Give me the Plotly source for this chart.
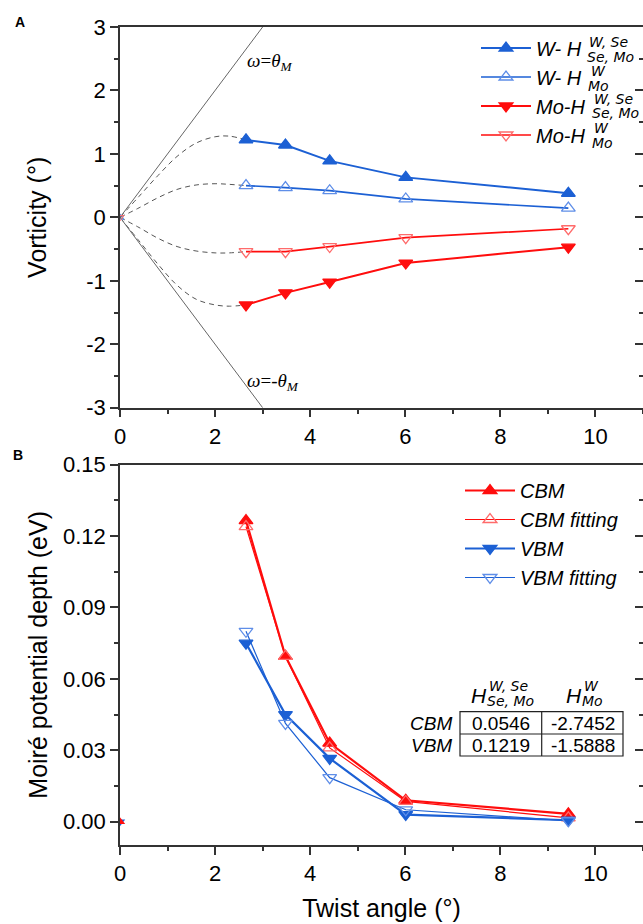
import plotly.graph_objects as go

# ---------------- data ----------------
twist = [2.65, 3.48, 4.41, 6.01, 9.43]

# Panel A: vorticity (deg)
w_hsemo = [1.22, 1.14, 0.89, 0.63, 0.38]
w_hmo = [0.50, 0.47, 0.42, 0.29, 0.145]
mo_hsemo = [-1.38, -1.19, -1.02, -0.72, -0.47]
mo_hmo = [-0.54, -0.54, -0.46, -0.32, -0.18]

# dashed guide curves from origin
guide_x = [0, 0.4, 0.8, 1.2, 1.6, 2.0, 2.3, 2.65]
guide_w_hsemo = [0, 0.33, 0.66, 0.96, 1.17, 1.27, 1.28, 1.22]
guide_w_hmo = [0, 0.15, 0.31, 0.44, 0.51, 0.53, 0.52, 0.50]
guide_mo_hmo = [0, -0.16, -0.33, -0.46, -0.53, -0.56, -0.56, -0.54]
guide_mo_hsemo = [0, -0.37, -0.74, -1.07, -1.29, -1.38, -1.40, -1.38]

# omega = +/- theta_M bounds
bound_x = [0, 3]
bound_pos = [0, 3]
bound_neg = [0, -3]

# Panel B: moire potential depth (eV)
cbm = [0.1265, 0.0695, 0.0330, 0.0090, 0.0033]
cbm_fit = [0.1240, 0.0695, 0.0310, 0.0085, 0.0016]
vbm = [0.0750, 0.0450, 0.0266, 0.0030, 0.0006]
vbm_fit = [0.0800, 0.0413, 0.0185, 0.0050, 0.0004]
origin_x = [0]
origin_y = [0]

table_rows = ["CBM", "VBM"]
table_col1 = ["0.0546", "0.1219"]
table_col2 = ["-2.7452", "-1.5888"]

xticks = [0, 2, 4, 6, 8, 10]
yticksA = [3, 2, 1, 0, -1, -2, -3]
yticksB = [0.00, 0.03, 0.06, 0.09, 0.12, 0.15]

# ---------------- style ----------------
BLUE = "#1c60d4"
BLUE_L = "#5f8ee8"
RED = "#ff0d0d"
RED_L = "#ff6b6b"
GUIDE = "#555555"
AX = "#333333"
SANS = "Liberation Sans, Arial, sans-serif"
DJV = "DejaVu Sans, sans-serif"
SERIF = "Liberation Serif, Times New Roman, serif"

L, R_, T, B = 120, 643, 27, 845
W, H = R_ - L, B - T


def px2x(px):
    return (px - L) / W


def py2y(py):
    return (B - py) / H


fig = go.Figure()

# Panel A guides
for gy in [guide_w_hsemo, guide_w_hmo, guide_mo_hmo, guide_mo_hsemo]:
    fig.add_trace(go.Scatter(x=guide_x, y=gy, mode="lines", line=dict(color=GUIDE, width=1, dash="5px,4px", shape="spline"),
                             showlegend=False, hoverinfo="skip", xaxis="x", yaxis="y"))
for by in [bound_pos, bound_neg]:
    fig.add_trace(go.Scatter(x=bound_x, y=by, mode="lines", line=dict(color="#666666", width=1),
                             showlegend=False, hoverinfo="skip", xaxis="x", yaxis="y"))

# Panel A series
specA = [
    (w_hsemo, "<i>W- H</i>", BLUE, BLUE, "triangle-up", 2),
    (w_hmo, "<i>W- H</i>", BLUE, BLUE_L, "triangle-up-open", 1.7),
    (mo_hsemo, "<i>Mo-H</i>", RED, RED, "triangle-down", 2),
    (mo_hmo, "<i>Mo-H</i>", RED, RED_L, "triangle-down-open", 1.7),
]
for ys, name, lc, mc, sym, lw in specA:
    fig.add_trace(go.Scatter(x=twist, y=ys, name=name, mode="lines+markers",
                             line=dict(color=lc, width=lw),
                             marker=dict(symbol=sym, size=12, color=mc, line=dict(color=mc, width=1.3)),
                             legend="legend", xaxis="x", yaxis="y"))
# origin markers panel A
fig.add_trace(go.Scatter(x=origin_x, y=origin_y, mode="markers", marker=dict(symbol="triangle-up-open", size=7, color=BLUE_L),
                         showlegend=False, hoverinfo="skip", xaxis="x", yaxis="y"))
fig.add_trace(go.Scatter(x=origin_x, y=origin_y, mode="markers", marker=dict(symbol="triangle-down-open", size=7, color=RED_L),
                         showlegend=False, hoverinfo="skip", xaxis="x", yaxis="y"))

# Panel B series
specB = [
    (cbm, "<i>CBM</i>", RED, RED, "triangle-up", 2.2),
    (cbm_fit, "<i>CBM fitting</i>", RED, RED_L, "triangle-up-open", 1.2),
    (vbm, "<i>VBM</i>", BLUE, BLUE, "triangle-down", 2.2),
    (vbm_fit, "<i>VBM fitting</i>", BLUE, BLUE_L, "triangle-down-open", 1.2),
]
for ys, name, lc, mc, sym, lw in specB:
    fig.add_trace(go.Scatter(x=twist, y=ys, name=name, mode="lines+markers",
                             line=dict(color=lc, width=lw),
                             marker=dict(symbol=sym, size=12, color=mc, line=dict(color=mc, width=1.3)),
                             legend="legend2", xaxis="x2", yaxis="y2"))
fig.add_trace(go.Scatter(x=origin_x, y=origin_y, mode="markers", marker=dict(symbol="triangle-down", size=9, color=BLUE),
                         showlegend=False, hoverinfo="skip", xaxis="x2", yaxis="y2"))
fig.add_trace(go.Scatter(x=origin_x, y=origin_y, mode="markers", marker=dict(symbol="triangle-up", size=9, color=RED),
                         showlegend=False, hoverinfo="skip", xaxis="x2", yaxis="y2"))

# invisible helpers for the right-side inner tick axes
fig.add_trace(go.Scatter(x=origin_x, y=origin_y, mode="markers", marker=dict(opacity=0), showlegend=False,
                         hoverinfo="skip", xaxis="x", yaxis="y3"))
fig.add_trace(go.Scatter(x=origin_x, y=origin_y, mode="markers", marker=dict(opacity=0), showlegend=False,
                         hoverinfo="skip", xaxis="x2", yaxis="y4"))

domA = [py2y(407.7), 1]
domB = [0, py2y(464.7)]
rangeB = [-0.0098, 0.15]

common_x = dict(range=[0, 11], tickvals=xticks, ticktext=[str(v) for v in xticks],
                ticks="outside", ticklen=8, tickwidth=1.5, tickcolor=AX, automargin=False,
                minor=dict(dtick=1, tick0=0, ticks="outside", ticklen=4.5, tickwidth=1.5, tickcolor=AX),
                showline=True, linecolor=AX, linewidth=1.5, mirror=True, showgrid=False, zeroline=False,
                tickfont=dict(family=SANS, size=22, color="black"))
common_y = dict(ticks="outside", ticklen=8, tickwidth=1.5, tickcolor=AX, automargin=False,
                showline=True, linecolor=AX, linewidth=1.5, mirror=True, showgrid=False, zeroline=False,
                tickfont=dict(family=SANS, size=22, color="black"))
overlay_y = dict(side="right", ticks="inside", ticklen=8, tickwidth=1.5, tickcolor=AX, showticklabels=False,
                 showline=False, showgrid=False, zeroline=False, automargin=False)

fig.update_layout(
    width=643, height=924, margin=dict(l=L, r=0, t=T, b=924 - B, autoexpand=False),
    paper_bgcolor="white", plot_bgcolor="white", showlegend=True,
    xaxis=dict(domain=[0, 1], anchor="y", **common_x),
    yaxis=dict(domain=domA, anchor="x", range=[-3, 3], tickvals=yticksA, ticktext=[str(v) for v in yticksA],
               minor=dict(dtick=0.5, tick0=0, ticks="outside", ticklen=4.5, tickwidth=1.5, tickcolor=AX),
               title=dict(text="Vorticity (°)", font=dict(family=SANS, size=25, color="black"), standoff=33),
               **common_y),
    yaxis3=dict(overlaying="y", anchor="x", range=[-3, 3], tickvals=yticksA,
                minor=dict(dtick=0.5, tick0=0, ticks="inside", ticklen=4.5, tickwidth=1.5, tickcolor=AX), **overlay_y),
    xaxis2=dict(domain=[0, 1], anchor="y2",
                title=dict(text="Twist angle (°)", font=dict(family=SANS, size=25, color="black"), standoff=14),
                **common_x),
    yaxis2=dict(domain=domB, anchor="x2", range=rangeB, tickvals=yticksB, ticktext=["%.2f" % v for v in yticksB],
                minor=dict(dtick=0.015, tick0=0, ticks="outside", ticklen=4.5, tickwidth=1.5, tickcolor=AX),
                title=dict(text="Moiré potential depth (eV)", font=dict(family=SANS, size=25, color="black"), standoff=8),
                **common_y),
    yaxis4=dict(overlaying="y2", anchor="x2", range=rangeB, tickvals=yticksB,
                minor=dict(dtick=0.015, tick0=0, ticks="inside", ticklen=4.5, tickwidth=1.5, tickcolor=AX), **overlay_y),
    legend=dict(x=px2x(476), y=py2y(28.5), xanchor="left", yanchor="top", bgcolor="rgba(0,0,0,0)",
                font=dict(family=SANS, size=20, color="black"), itemwidth=50, tracegroupgap=0),
    legend2=dict(x=px2x(460), y=py2y(471), xanchor="left", yanchor="top", bgcolor="rgba(0,0,0,0)",
                 font=dict(family=SANS, size=20, color="black"), itemwidth=50, tracegroupgap=0),
)

ann = []
# panel labels
ann.append(dict(text="<b>A</b>", x=px2x(20), y=py2y(22), font=dict(family=SANS, size=14, color="black")))
ann.append(dict(text="<b>B</b>", x=px2x(18), y=py2y(455), font=dict(family=SANS, size=14, color="black")))
# omega = theta labels
ann.append(dict(text="<i>ω</i>=<i>θ<sub>M</sub></i>", x=px2x(245), y=py2y(62), xanchor="left",
                font=dict(family=SERIF, size=19, color="black")))
ann.append(dict(text="<i>ω</i>=-<i>θ<sub>M</sub></i>", x=px2x(245), y=py2y(382), xanchor="left",
                font=dict(family=SERIF, size=19, color="black")))

# legend A super/subscripts (stacked)
legsup = [("W, Se", 587, 42.3), ("W", 589, 71), ("W, Se", 592, 99), ("W", 592, 127.7)]
legsub = [("Se, Mo", 585, 56.7), ("Mo", 586, 86), ("Se, Mo", 590, 113.3), ("Mo", 590, 142.7)]
for t, x, y in legsup + legsub:
    ann.append(dict(text="<i>%s</i>" % t, x=px2x(x), y=py2y(y), xanchor="left",
                    font=dict(family=DJV, size=14, color="black")))

# table headers
for hx, sup, sub in [(469, "W, Se", "Se, Mo"), (564, "W", "Mo")]:
    ann.append(dict(text="<i>H</i>", x=px2x(hx), y=py2y(695), xanchor="left", font=dict(family=SANS, size=21, color="black")))
    ann.append(dict(text="<i>%s</i>" % sup, x=px2x(hx + 18), y=py2y(686), xanchor="left", font=dict(family=DJV, size=14, color="black")))
    ann.append(dict(text="<i>%s</i>" % sub, x=px2x(hx + 16), y=py2y(701), xanchor="left", font=dict(family=DJV, size=14, color="black")))
rowy = [723, 745]
for i, r in enumerate(table_rows):
    ann.append(dict(text="<i>%s</i>" % r, x=px2x(454), y=py2y(rowy[i]), xanchor="right", font=dict(family=SANS, size=19, color="black")))
    ann.append(dict(text=table_col1[i], x=px2x(501), y=py2y(rowy[i]), font=dict(family=SANS, size=19, color="black")))
    ann.append(dict(text=table_col2[i], x=px2x(583), y=py2y(rowy[i]), font=dict(family=SANS, size=19, color="black")))

for a in ann:
    a.update(xref="paper", yref="paper", showarrow=False)
    a.setdefault("xanchor", "center")
    a.setdefault("yanchor", "middle")
fig.update_layout(annotations=ann)

shapes = [
    dict(type="rect", x0=px2x(460), x1=px2x(623), y0=py2y(756), y1=py2y(711.7)),
    dict(type="line", x0=px2x(460), x1=px2x(623), y0=py2y(734), y1=py2y(734)),
    dict(type="line", x0=px2x(541.7), x1=px2x(541.7), y0=py2y(756), y1=py2y(711.7)),
]
for s in shapes:
    s.update(xref="paper", yref="paper", line=dict(color="#222222", width=1.2))
fig.update_layout(shapes=shapes)

fig.write_html("out.html", config={"displayModeBar": False},
               post_script="document.body.style.margin='0';document.body.style.padding='0';")
